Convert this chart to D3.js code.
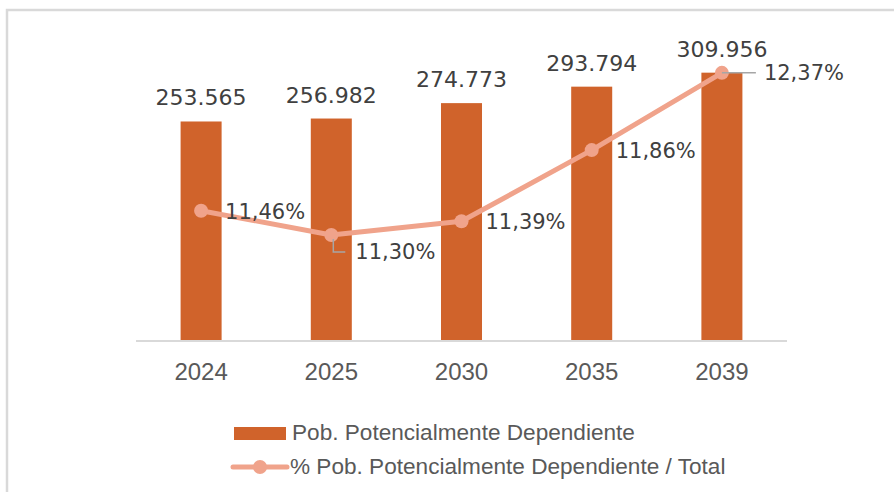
<!DOCTYPE html>
<html>
<head>
<meta charset="utf-8">
<script src="https://cdn.jsdelivr.net/npm/d3@7"></script>
<style>
  body { margin: 0; background: #fff; }
  svg { display: block; }
</style>
</head>
<body>
<div id="chart"></div>
<script>
const years = ["2024", "2025", "2030", "2035", "2039"];
const poblacion = [253565, 256982, 274773, 293794, 309956];
const porcentaje = [11.46, 11.30, 11.39, 11.86, 12.37];
const seriesNames = ["Pob. Potencialmente Dependiente", "% Pob. Potencialmente Dependiente / Total"];

const W = 894, H = 492;
const barColor = "#D0632B", lineColor = "#F0A38B";

const svg = d3.select("#chart").append("svg")
    .attr("width", W).attr("height", H);

// outer frame (continues past the right/bottom edge)
svg.append("rect")
    .attr("x", 7).attr("y", 10)
    .attr("width", 920).attr("height", 520)
    .attr("fill", "none")
    .attr("stroke", "#d9d9d9")
    .attr("stroke-width", 2.5);

let x = d3.scaleBand().domain(years).range([136, 787]).paddingInner(0.685).paddingOuter(0.3425);
let y = d3.scaleLinear().domain([0, 350000]).range([341, 38]);
let y2 = d3.scaleLinear().domain([10.6, 12.6]).range([341, 38]);
const cx = d => x(d) + x.bandwidth() / 2;

const fmtPob = d3.formatLocale({decimal: ",", thousands: ".", grouping: [3]}).format(",");
const fmtPct = d => d.toFixed(2).replace(".", ",") + "%";

// bars
svg.append("g")
    .selectAll("rect")
    .data(years)
    .enter()
    .append("rect")
    .attr("x", d => x(d))
    .attr("y", (d, i) => y(poblacion[i]))
    .attr("width", x.bandwidth())
    .attr("height", (d, i) => y(0) - y(poblacion[i]))
    .attr("fill", barColor);

// x axis line
svg.append("line")
    .attr("x1", 136).attr("x2", 787)
    .attr("y1", 341).attr("y2", 341)
    .attr("stroke", "#d9d9d9").attr("stroke-width", 2);

// category labels
svg.append("g")
    .selectAll("text")
    .data(years)
    .enter()
    .append("text")
    .attr("x", d => cx(d))
    .attr("y", 380)
    .attr("text-anchor", "middle")
    .style("font-family", "Liberation Sans, Arial, sans-serif")
    .style("font-size", "24px")
    .attr("fill", "#595959")
    .text(d => d);

// bar value labels
svg.append("g")
    .selectAll("text")
    .data(years)
    .enter()
    .append("text")
    .attr("x", d => cx(d))
    .attr("y", (d, i) => y(poblacion[i]) - 16)
    .attr("text-anchor", "middle")
    .style("font-family", "DejaVu Sans, sans-serif")
    .style("font-size", "22px")
    .attr("fill", "#404040")
    .text((d, i) => fmtPob(poblacion[i]));

// line
const line = d3.line()
    .x(d => cx(d))
    .y((d, i) => y2(porcentaje[i]));

svg.append("path")
    .datum(years)
    .attr("d", line)
    .attr("fill", "none")
    .attr("stroke", lineColor)
    .attr("stroke-width", 5)
    .attr("stroke-linejoin", "round");

svg.append("g")
    .selectAll("circle")
    .data(years)
    .enter()
    .append("circle")
    .attr("cx", d => cx(d))
    .attr("cy", (d, i) => y2(porcentaje[i]))
    .attr("r", 7)
    .attr("fill", lineColor);

// leader lines for moved labels
const p25 = [cx("2025"), y2(porcentaje[1])];
svg.append("path")
    .attr("d", `M${p25[0] + 2},${p25[1] + 4} V${p25[1] + 17} H${p25[0] + 14}`)
    .attr("fill", "none").attr("stroke", "#a6a6a6").attr("stroke-width", 1.5);
const p39 = [cx("2039"), y2(porcentaje[4])];
svg.append("line")
    .attr("x1", p39[0]).attr("x2", p39[0] + 34)
    .attr("y1", p39[1]).attr("y2", p39[1])
    .attr("stroke", "#a6a6a6").attr("stroke-width", 1.5);

// percentage labels (dx, dy offsets from the point)
const labelOffset = [[24, 2], [24, 18], [24, 2], [24, 2], [42, 1]];
svg.append("g")
    .selectAll("text")
    .data(years)
    .enter()
    .append("text")
    .attr("x", (d, i) => cx(d) + labelOffset[i][0])
    .attr("y", (d, i) => y2(porcentaje[i]) + labelOffset[i][1])
    .attr("dominant-baseline", "middle")
    .style("font-family", "DejaVu Sans, sans-serif")
    .style("font-size", "21px")
    .attr("fill", "#404040")
    .text((d, i) => fmtPct(porcentaje[i]));

// legend
const lg = svg.append("g")
    .style("font-family", "Liberation Sans, Arial, sans-serif")
    .style("font-size", "22.6px")
    .attr("fill", "#595959");

lg.append("rect")
    .attr("x", 234).attr("y", 427)
    .attr("width", 52).attr("height", 13)
    .attr("fill", barColor);
lg.append("text")
    .attr("x", 292).attr("y", 434)
    .attr("dominant-baseline", "middle")
    .text(seriesNames[0]);

lg.append("line")
    .attr("x1", 233).attr("x2", 287)
    .attr("y1", 467).attr("y2", 467)
    .attr("stroke", lineColor).attr("stroke-width", 5)
    .attr("stroke-linecap", "round");
lg.append("circle")
    .attr("cx", 260).attr("cy", 467).attr("r", 7)
    .attr("fill", lineColor);
lg.append("text")
    .attr("x", 290).attr("y", 468)
    .attr("dominant-baseline", "middle")
    .text(seriesNames[1]);
</script>
</body>
</html>
